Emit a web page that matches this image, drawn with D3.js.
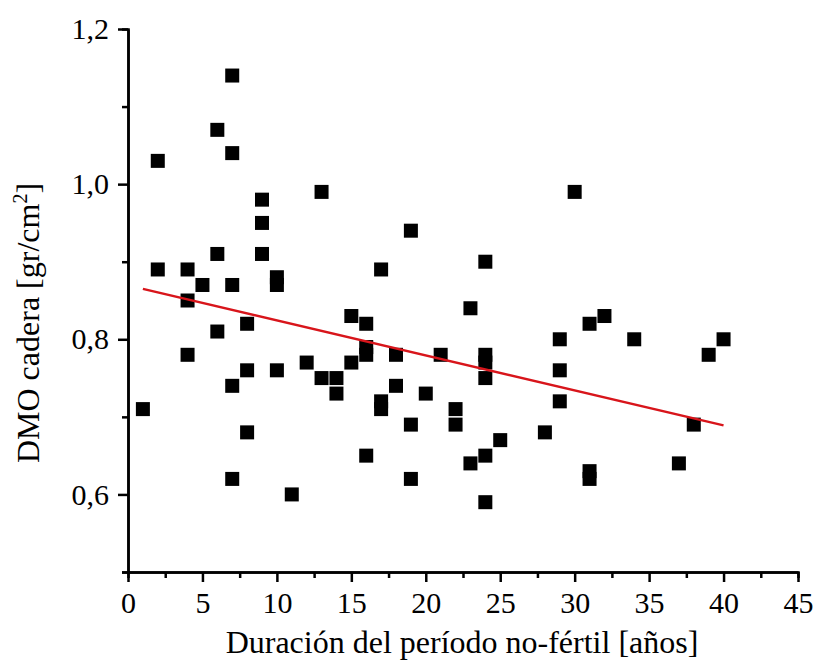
<!DOCTYPE html>
<html>
<head>
<meta charset="utf-8">
<script src="https://cdn.jsdelivr.net/npm/d3@7"></script>
<style>
  body { margin: 0; background: #fff; }
  svg text { font-family: "Liberation Serif", "Times New Roman", serif; fill: #000; }
</style>
</head>
<body>
<svg width="815" height="661"></svg>
<script>
// duration of non-fertile period (years) vs hip BMD
const years = [1, 2, 2, 4, 4, 4, 5, 6, 6, 6, 7, 7, 7, 7, 7, 8, 8, 8, 9, 9, 9, 10, 10, 10,
  11, 12, 13, 13, 14, 14, 15, 15, 16, 16, 16, 16, 17, 17, 17, 18, 18, 19, 19, 19, 20, 21,
  22, 22, 23, 23, 24, 24, 24, 24, 24, 24, 25, 28, 29, 29, 29, 30, 31, 31, 31, 32, 34, 37,
  38, 39, 40];
const dmo = [0.71, 1.03, 0.89, 0.89, 0.85, 0.78, 0.87, 1.07, 0.91, 0.81, 1.14, 1.04, 0.87,
  0.74, 0.62, 0.82, 0.76, 0.68, 0.98, 0.95, 0.91, 0.88, 0.87, 0.76, 0.60, 0.77, 0.99, 0.75,
  0.75, 0.73, 0.83, 0.77, 0.82, 0.79, 0.78, 0.65, 0.89, 0.72, 0.71, 0.78, 0.74, 0.94, 0.69,
  0.62, 0.73, 0.78, 0.71, 0.69, 0.84, 0.64, 0.90, 0.78, 0.77, 0.75, 0.65, 0.59, 0.67, 0.68,
  0.80, 0.76, 0.72, 0.99, 0.82, 0.63, 0.62, 0.83, 0.80, 0.64, 0.69, 0.78, 0.80];

// linear fit (end points)
const fitX = [1, 40];
const fitY = [0.865, 0.689];

const xMajor = [0, 5, 10, 15, 20, 25, 30, 35, 40, 45];
const xMinor = [2.5, 7.5, 12.5, 17.5, 22.5, 27.5, 32.5, 37.5, 42.5];
const yMajor = [0.6, 0.8, 1.0, 1.2];
const yMinor = [0.5, 0.7, 0.9, 1.1];

const svg = d3.select("svg");
const margin = { top: 29, right: 17, bottom: 89, left: 128 };
const width = 815 - margin.left - margin.right,
  height = 661 - margin.top - margin.bottom;

const g = svg.append("g").attr("transform", `translate(${margin.left},${margin.top})`);

const x = d3.scaleLinear().domain([0, 45]).range([0, width]);
const y = d3.scaleLinear().domain([0.5, 1.2]).range([height, 0]);

const comma = d => d3.format(".1f")(d).replace(".", ",");

// minor ticks first, then major axes on top
g.append("g")
  .attr("transform", `translate(0,${height})`)
  .call(d3.axisBottom(x).tickValues(xMinor).tickSize(6).tickFormat(""));
g.append("g")
  .call(d3.axisLeft(y).tickValues(yMinor).tickSize(6).tickFormat(""));

g.append("g")
  .attr("transform", `translate(0,${height})`)
  .call(d3.axisBottom(x).tickValues(xMajor).tickSize(10).tickSizeOuter(0).tickPadding(10));
g.append("g")
  .call(d3.axisLeft(y).tickValues(yMajor).tickFormat(comma).tickSize(10).tickSizeOuter(0).tickPadding(9));

g.selectAll(".domain, .tick line")
  .attr("stroke", "#000")
  .attr("stroke-width", 2.5);
g.selectAll(".tick text")
  .attr("font-size", 30)
  .attr("font-family", '"Liberation Serif", "Times New Roman", serif');

// points
const size = 14;
g.append("g")
  .selectAll("rect")
  .data(years.map((d, i) => [d, dmo[i]]))
  .join("rect")
  .attr("x", d => x(d[0]) - size / 2)
  .attr("y", d => y(d[1]) - size / 2)
  .attr("width", size)
  .attr("height", size)
  .attr("fill", "#000");

// fit line
g.append("line")
  .attr("x1", x(fitX[0]))
  .attr("y1", y(fitY[0]))
  .attr("x2", x(fitX[1]))
  .attr("y2", y(fitY[1]))
  .attr("stroke", "#d8151b")
  .attr("stroke-width", 2.5);

// axis titles
svg.append("text")
  .attr("x", 462)
  .attr("y", 653)
  .attr("text-anchor", "middle")
  .attr("font-size", 32)
  .text("Duración del período no-fértil [años]");

const yl = svg.append("text")
  .attr("transform", "translate(39,323) rotate(-90)")
  .attr("text-anchor", "middle")
  .attr("font-size", 32);
yl.append("tspan").text("DMO cadera [gr/cm");
yl.append("tspan").attr("dy", -12).attr("font-size", 20).text("2");
yl.append("tspan").attr("dy", 12).text("]");
</script>
</body>
</html>
